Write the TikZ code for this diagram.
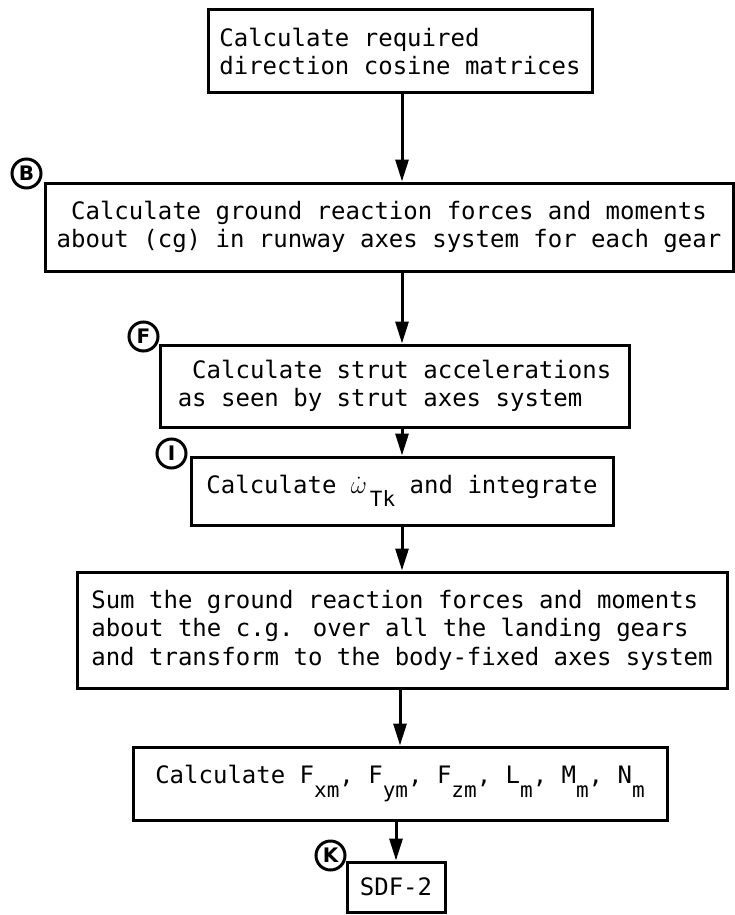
\documentclass[tikz,border=0pt]{standalone}
\usepackage{fontspec}
\usepackage{tikz}
\usetikzlibrary{arrows.meta, positioning}

\newfontfamily\flowfont{DejaVu Sans Mono}
\newfontfamily\tagfont{DejaVu Sans}
\newcommand{\lowsub}[1]{\raisebox{-0.55em}{\fontsize{21}{21}\selectfont #1}}

\begin{document}
\begin{tikzpicture}[x=1pt, y=-1pt]
		\tikzstyle{stepbox} = [draw, line width=3pt, inner sep=0pt, font=\flowfont\fontsize{24}{28.5}\selectfont]
		\tikzstyle{tag} = [draw, circle, line width=3pt, fill=white, minimum size=29pt, inner sep=0pt, font=\tagfont\bfseries\fontsize{20}{20}\selectfont]
		\tikzstyle{arrow} = [line width=3pt, -{Triangle[length=22pt, width=13pt]}]

		\useasboundingbox (0,0) rectangle (735,915);
		\coordinate (spine) at (402,0);

		\node[stepbox, align=left, minimum width=384pt, minimum height=83pt]	at (400, 51.5)	(calcdcm)	{Calculate required\\direction cosine matrices};
		\node[stepbox, align=center, minimum width=688pt, minimum height=88pt]	at (389, 227)	(groundforce)	{Calculate ground reaction forces and moments\\about (cg) in runway axes system for each gear};
		\node[stepbox, align=left, minimum width=469pt, minimum height=82pt]	at (394.5, 386)	(strutacc)	{~Calculate strut accelerations\\as seen by strut axes system};
		\node[stepbox, minimum width=422pt, minimum height=68pt]	at (402, 491)	(omegaint)	{Calculate $\dot{\omega}$\kern3pt\lowsub{Tk} and integrate};
		\node[stepbox, align=left, minimum width=650pt, minimum height=116pt]	at (402, 630)	(sumforce)	{Sum the ground reaction forces and moments\\about the c.g. over all the landing gears\\and transform to the body-fixed axes system};
		\node[stepbox, minimum width=534pt, minimum height=73pt]	at (400, 783.5)	(calcforce)	{Calculate F\lowsub{xm}, F\lowsub{ym}, F\lowsub{zm}, L\lowsub{m}, M\lowsub{m}, N\lowsub{m}};
		\node[stepbox, minimum width=98pt, minimum height=50pt]	at (396, 887)	(sdf)	{SDF-2};

		% entry letters
		\node[tag] at ([xshift=-17pt, yshift=8pt]groundforce.north west)	(tagB)	{B};
		\node[tag] at ([xshift=-15pt, yshift=7pt]strutacc.north west)	(tagF)	{F};
		\node[tag] at ([xshift=-18pt, yshift=2pt]omegaint.north west)	(tagI)	{I};
		\node[tag] at ([xshift=-15pt, yshift=5pt]sdf.north west)	(tagK)	{K};

		\draw[arrow] (calcdcm.south -| spine) -- (groundforce.north -| spine);
		\draw[arrow] (groundforce.south -| spine) -- (strutacc.north -| spine);
		\draw[arrow] (strutacc.south -| spine) -- (omegaint.north -| spine);
		\draw[arrow] (omegaint.south -| spine) -- (sumforce.north -| spine);
		\draw[arrow] (sumforce.south -| calcforce) -- (calcforce.north);
		\draw[arrow] (calcforce.south -| sdf) -- (sdf.north);
	\end{tikzpicture}
\end{document}
